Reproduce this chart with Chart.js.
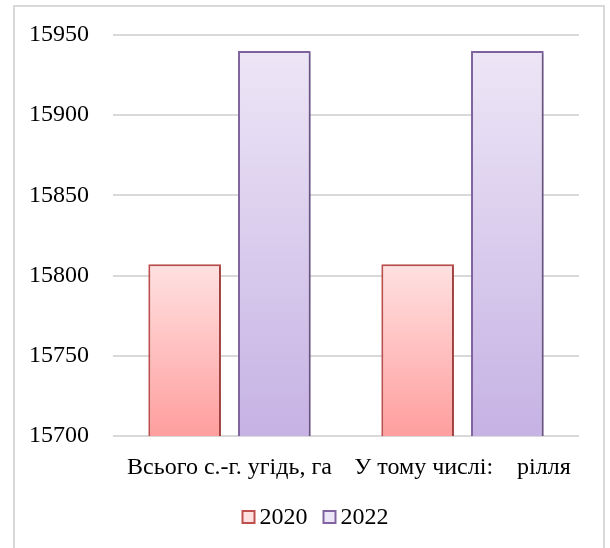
<!DOCTYPE html>
<html>
<head>
<meta charset="utf-8">
<script src="https://cdn.jsdelivr.net/npm/chart.js@4.4.1/dist/chart.umd.min.js"></script>
<style>
  html, body { margin: 0; padding: 0; background: #fff; }
  #wrap { position: relative; width: 610px; height: 548px; overflow: hidden; }
  #frame { position: absolute; left: 13px; top: 5px; width: 592px; height: 600px;
           border: 2px solid #d9d9d9; box-sizing: border-box; }
  canvas { position: absolute; left: 0; top: 0; }
</style>
</head>
<body>
<div id="wrap">
  <div id="frame"></div>
  <canvas id="chart" width="610" height="548"></canvas>
</div>
<script>
const categories = ['Всього с.-г. угідь, га', 'У тому числі:    рілля'];
const seriesNames = ['2020', '2022'];
const values2020 = [15807, 15807];
const values2022 = [15940, 15940];
const yTicks = [15700, 15750, 15800, 15850, 15900, 15950];

// top/bottom colours of each bar's vertical gradient, plus outline colour
const styles = [
  { top: '#ffe1e1', bottom: '#ff9e9e', border: '#c0504d' },
  { top: '#ede6f6', bottom: '#c6b2e4', border: '#8064a2' }
];

function barGradient(style) {
  return (ctx) => {
    const chart = ctx.chart;
    if (ctx.type !== 'data' || !chart.chartArea) return style.top;
    const y = chart.scales.y;
    const top = y.getPixelForValue(ctx.raw);
    const base = y.getPixelForValue(y.min);
    const g = chart.ctx.createLinearGradient(0, top, 0, base);
    g.addColorStop(0, style.top);
    g.addColorStop(1, style.bottom);
    return g;
  };
}

const fontFamily = '"Liberation Serif", "Times New Roman", serif';
const font = { family: fontFamily, size: 24 };

// soft drop shadow under the bars
const barShadow = {
  id: 'barShadow',
  beforeDatasetsDraw(chart) {
    const c = chart.ctx;
    c.save();
    c.shadowColor = 'rgba(0,0,0,0.22)';
    c.shadowBlur = 3;
    c.shadowOffsetX = 2;
    c.shadowOffsetY = 1;
  },
  afterDatasetsDraw(chart) {
    chart.ctx.restore();
  }
};

// legend row under the axis: small outlined squares followed by the year
const bottomLegend = {
  id: 'bottomLegend',
  afterDraw(chart) {
    const c = chart.ctx;
    const box = 12, gap = 5, itemGap = 16;
    const cy = 517, cx = 315.5;
    c.save();
    c.font = '24px ' + fontFamily;
    c.textBaseline = 'middle';
    c.fillStyle = '#000';
    const items = chart.data.datasets.map((ds, i) => ({
      text: ds.label, style: styles[i], w: c.measureText(ds.label).width
    }));
    const total = items.reduce((s, it) => s + box + gap + it.w, 0) + itemGap * (items.length - 1);
    let x = cx - total / 2;
    items.forEach((it) => {
      c.fillStyle = it.style.top;
      c.fillRect(x, cy - box / 2, box, box);
      c.strokeStyle = it.style.border;
      c.lineWidth = 2;
      c.strokeRect(x, cy - box / 2, box, box);
      c.fillStyle = '#000';
      c.fillText(it.text, x + box + gap, cy + 1);
      x += box + gap + it.w + itemGap;
    });
    c.restore();
  }
};

new Chart(document.getElementById('chart'), {
  type: 'bar',
  data: {
    labels: categories,
    datasets: [
      {
        label: seriesNames[0],
        data: values2020,
        backgroundColor: barGradient(styles[0]),
        borderColor: styles[0].border,
        borderWidth: 2,
        borderSkipped: 'bottom'
      },
      {
        label: seriesNames[1],
        data: values2022,
        backgroundColor: barGradient(styles[1]),
        borderColor: styles[1].border,
        borderWidth: 2,
        borderSkipped: 'bottom'
      }
    ]
  },
  options: {
    responsive: false,
    animation: false,
    datasets: { bar: { barPercentage: 0.81, categoryPercentage: 0.77 } },
    layout: { padding: { top: 35, right: 31, bottom: 53, left: 0 } },
    scales: {
      x: {
        grid: { display: false },
        border: { display: false },
        ticks: { font: font, color: '#000', padding: 9, maxRotation: 0 },
        afterFit: (s) => { s.height = 59; s.paddingLeft = 0; s.paddingRight = 0; }
      },
      y: {
        min: yTicks[0],
        max: yTicks[yTicks.length - 1],
        afterBuildTicks: (s) => { s.ticks = yTicks.map(v => ({ value: v })); },
        grid: { color: '#d9d9d9', lineWidth: 2, drawTicks: false },
        border: { display: false },
        ticks: { font: font, color: '#000', padding: 24, callback: (v) => String(v) },
        afterFit: (s) => { s.width = 113; s.paddingTop = 0; s.paddingBottom = 0; }
      }
    },
    plugins: {
      tooltip: { enabled: false },
      legend: { display: false }
    }
  },
  plugins: [barShadow, bottomLegend]
});
</script>
</body>
</html>
